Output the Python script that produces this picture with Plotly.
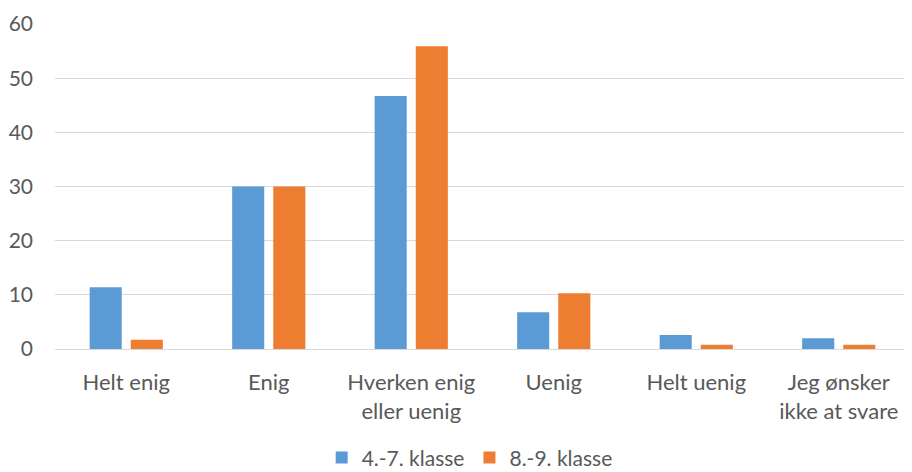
import plotly.graph_objects as go

categories = ["Helt enig", "Enig", "Hverken enig<br>eller uenig", "Uenig", "Helt uenig", "Jeg ønsker<br>ikke at svare"]
series_names = ["4.-7. klasse", "8.-9. klasse"]
values_47 = [11.4, 30.0, 46.7, 6.8, 2.6, 2.0]
values_89 = [1.7, 30.0, 55.9, 10.3, 0.8, 0.8]
y_ticks = [0, 10, 20, 30, 40, 50, 60]

colors = ["#5B9BD5", "#ED7D31"]
font_color = "#595959"
FONT = "Lato, Open Sans, sans-serif"

fig = go.Figure()
for name, vals, c in zip(series_names, [values_47, values_89], colors):
    fig.add_trace(go.Bar(x=categories, y=vals, name=name, marker=dict(color=c, line=dict(width=0))))

fig.update_layout(
    width=904, height=464,
    margin=dict(l=47, r=2, t=16, b=123, autoexpand=False),
    paper_bgcolor="white", plot_bgcolor="white",
    barmode="group", bargap=0.423, bargroupgap=0.22,
    font=dict(family=FONT, size=22, color=font_color),
    showlegend=True,
    legend=dict(orientation="h", x=0.485, xanchor="center", y=-0.335, yanchor="middle",
                font=dict(size=21, color=font_color), traceorder="normal"),
    xaxis=dict(showline=True, linecolor="#D9D9D9", linewidth=1, ticks="", tickfont=dict(size=22, color=font_color),
               ticklabelstandoff=14),
    yaxis=dict(range=[0, 60], tickvals=y_ticks, showgrid=True, gridcolor="#D9D9D9", gridwidth=1,
               zeroline=False, ticks="", tickfont=dict(size=21, color=font_color), ticklabelstandoff=21),
)

fig.write_html("out.html")
